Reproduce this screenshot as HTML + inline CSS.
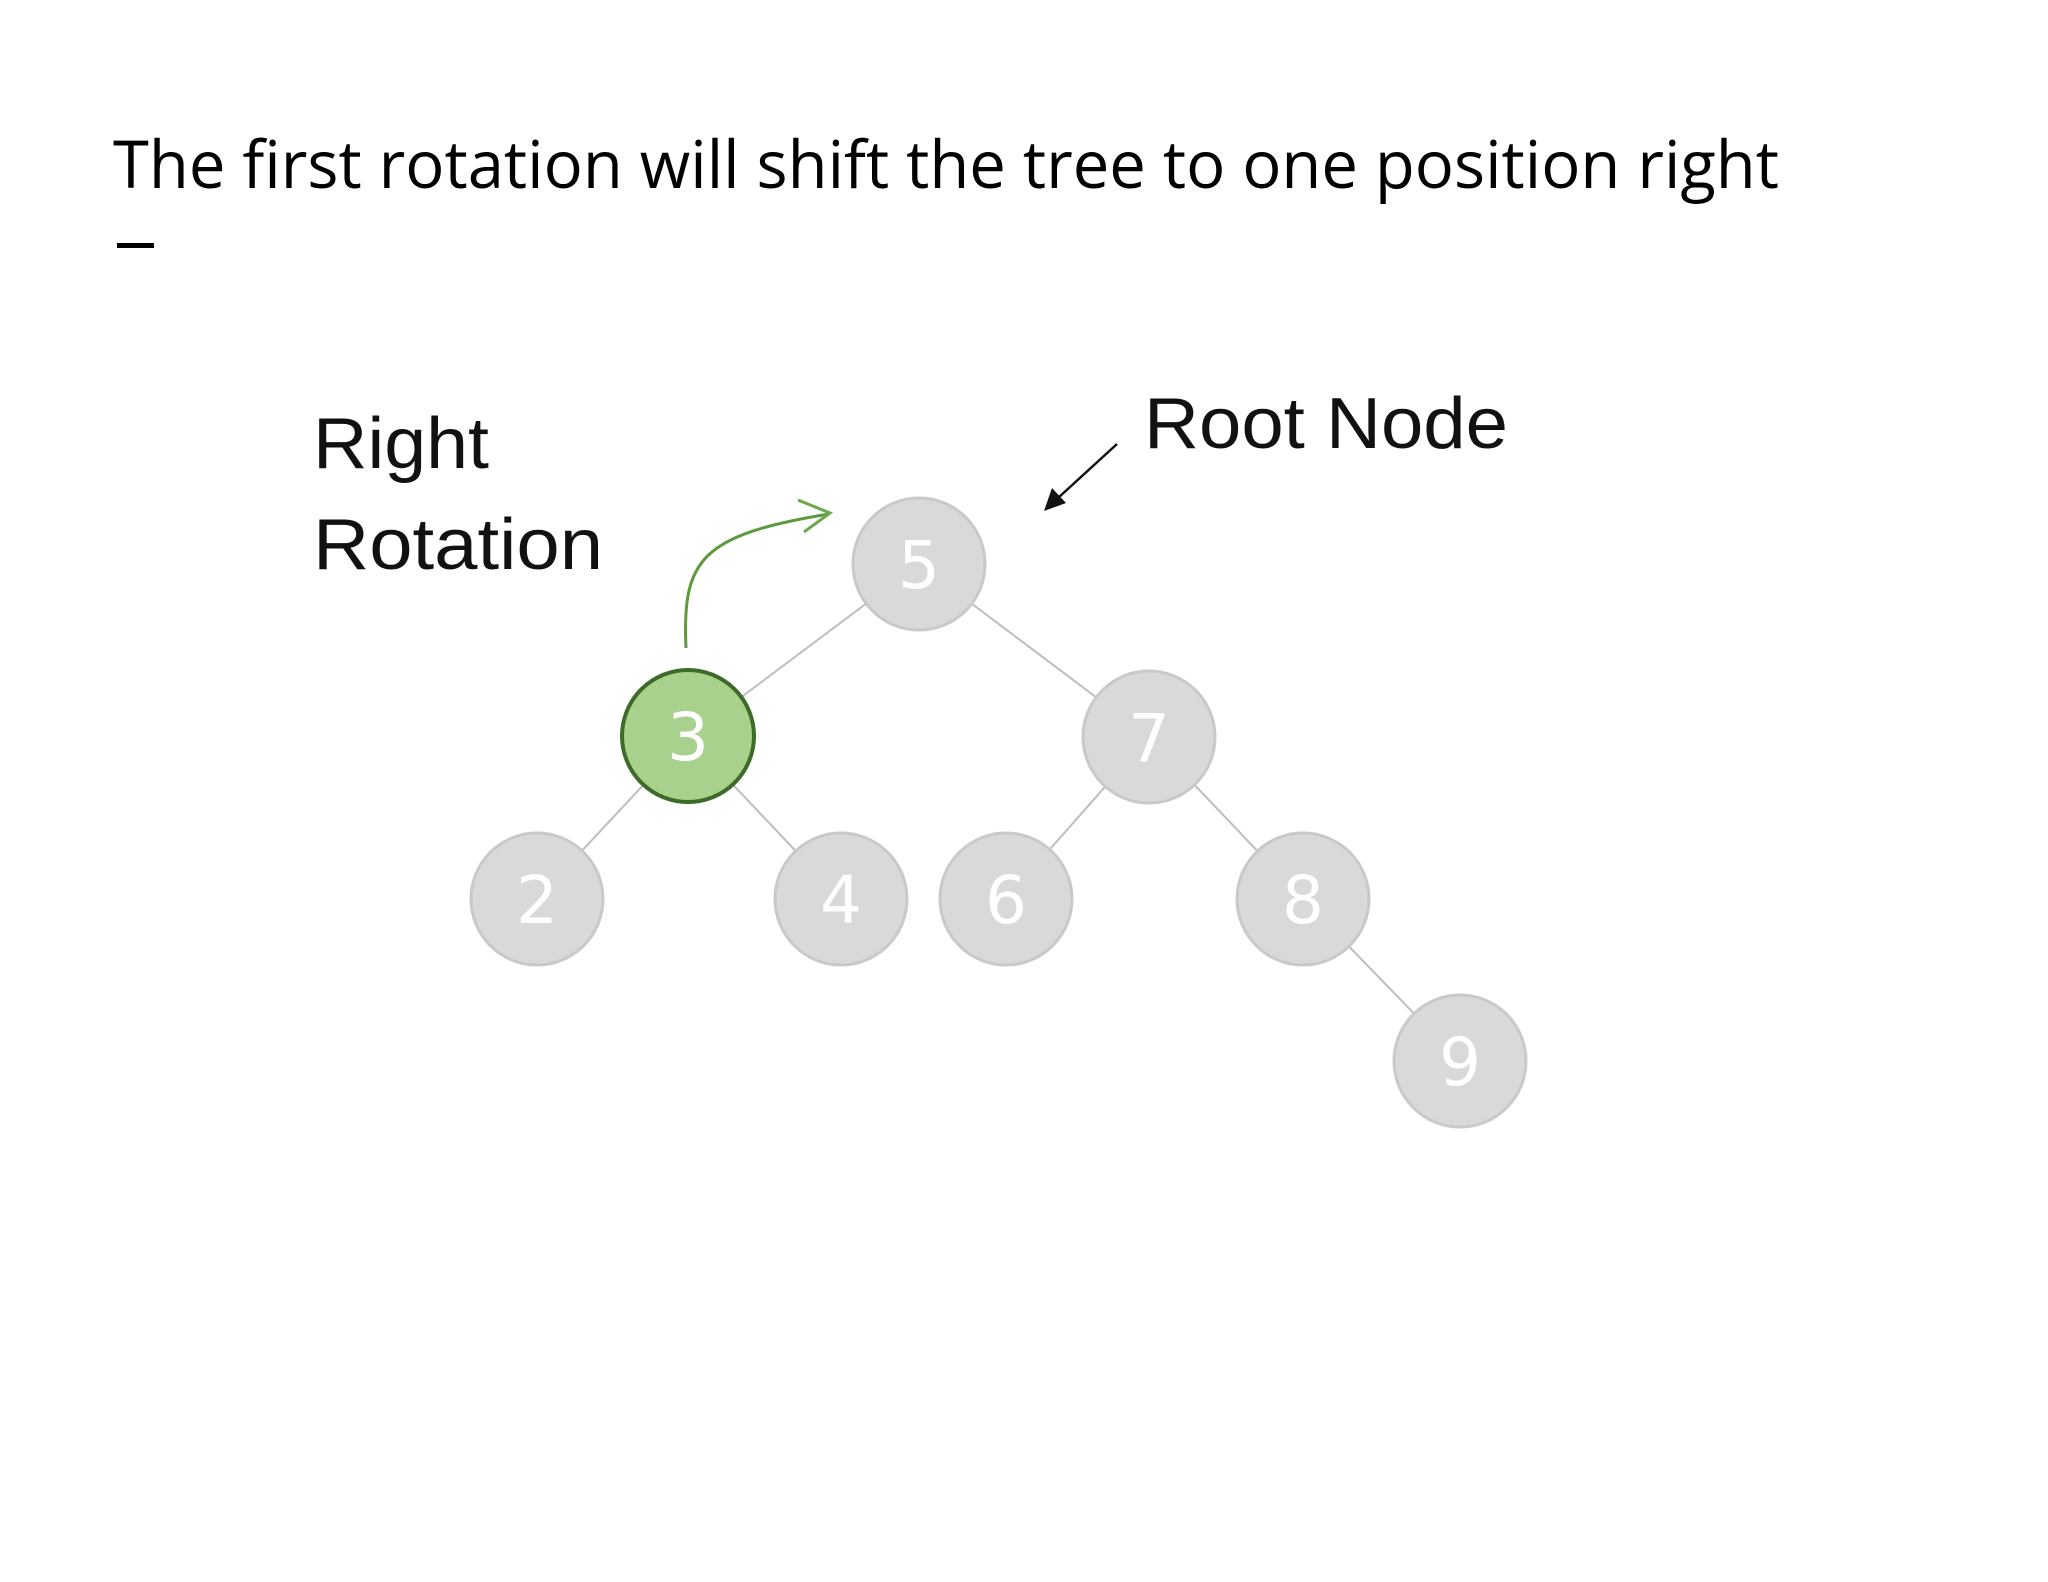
<!DOCTYPE html>
<html><head><meta charset="utf-8"><style>
html,body{margin:0;padding:0;background:#fff;}
svg{display:block;}
</style></head><body>
<svg width="2048" height="1582" viewBox="0 0 2048 1582" xmlns="http://www.w3.org/2000/svg">
<rect width="2048" height="1582" fill="#fff"/>
<text x="113" y="188" font-family="'Open Sans','DejaVu Sans','Liberation Sans',sans-serif" font-size="66" fill="#000" textLength="1666" lengthAdjust="spacingAndGlyphs">The first rotation will shift the tree to one position right</text>
<rect x="117" y="243" width="37" height="5" fill="#000"/>
<g font-family="'Liberation Sans',sans-serif" fill="#111">
<text x="313" y="468" font-size="72" textLength="176" lengthAdjust="spacingAndGlyphs">Right</text>
<text x="313" y="569" font-size="72" textLength="290" lengthAdjust="spacingAndGlyphs">Rotation</text>
<text x="1144" y="448" font-size="72" textLength="364" lengthAdjust="spacingAndGlyphs">Root Node</text>
</g>
<g stroke="#bdbdbd" stroke-width="2">
<line x1="919" y1="564" x2="688" y2="737"/>
<line x1="919" y1="564" x2="1149" y2="737"/>
<line x1="688" y1="737" x2="537" y2="899"/>
<line x1="688" y1="737" x2="841" y2="899"/>
<line x1="1149" y1="737" x2="1006" y2="899"/>
<line x1="1149" y1="737" x2="1303" y2="899"/>
<line x1="1303" y1="899" x2="1460" y2="1061"/>
</g>
<line x1="1117" y1="444" x2="1058" y2="498" stroke="#111" stroke-width="2.5"/>
<polygon points="1044,511 1052,488 1066,503" fill="#111"/>
<path d="M686 648 C 682 560, 700 535, 829 514" fill="none" stroke="#5e9a3c" stroke-width="3"/>
<polyline points="798,500 830,513 804,532" fill="none" stroke="#6aa84f" stroke-width="3"/>
<g font-family="'DejaVu Sans','Liberation Sans',sans-serif" font-size="66" fill="#fff" text-anchor="middle">
<g stroke="#c9c9c9" stroke-width="3" fill="#d9d9d9">
<circle cx="919" cy="564" r="66"/>
<circle cx="1149" cy="737" r="66"/>
<circle cx="537" cy="899" r="66"/>
<circle cx="841" cy="899" r="66"/>
<circle cx="1006" cy="899" r="66"/>
<circle cx="1303" cy="899" r="66"/>
<circle cx="1460" cy="1061" r="66"/>
</g>
<circle cx="688" cy="736" r="66" fill="#a9d18e" stroke="#3f6b2a" stroke-width="4"/>
<text x="919" y="588">5</text>
<text x="688" y="760">3</text>
<text x="1149" y="761">7</text>
<text x="537" y="923">2</text>
<text x="841" y="923">4</text>
<text x="1006" y="923">6</text>
<text x="1303" y="923">8</text>
<text x="1460" y="1085">9</text>
</g>
</svg>
</body></html>
